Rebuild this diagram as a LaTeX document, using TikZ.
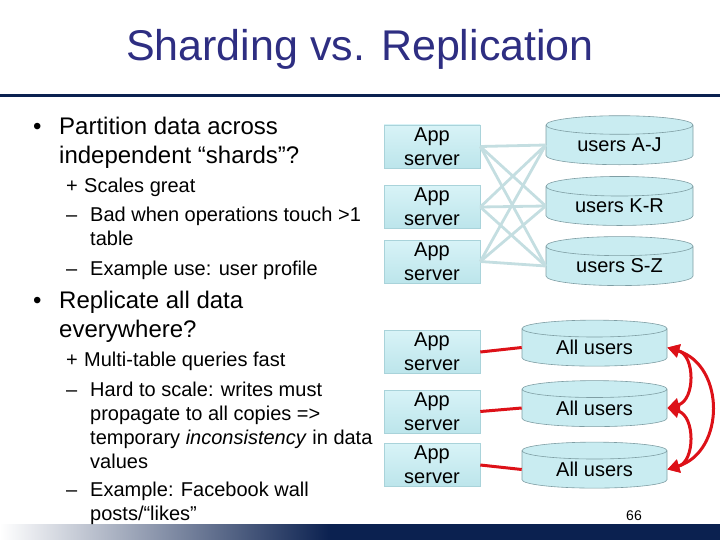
\documentclass[tikz,border=0pt]{standalone}
\usepackage{fontspec}
\setmainfont{Liberation Sans}
\usetikzlibrary{arrows.meta,shapes.geometric}
\definecolor{ink}{HTML}{000000}
\definecolor{navy}{HTML}{0B2150}
\definecolor{titleblue}{HTML}{2E2E82}
\definecolor{cyantop}{HTML}{D8F3F7}
\definecolor{cyanbot}{HTML}{BCE5EB}
\definecolor{cyanfill}{HTML}{C9ECF1}
\definecolor{cyanedge}{HTML}{A9D3DA}
\definecolor{dbedge}{HTML}{7F9EA4}
\definecolor{wire}{HTML}{C4DEE1}
\definecolor{sync}{HTML}{DD1118}
\tikzset{
  px/.style={x=1pt,y=-1pt},
  ttl/.style={font=\fontsize{43}{50}\selectfont,text=titleblue},
  bul/.style={anchor=base west,inner sep=0pt,font=\fontsize{24}{29}\selectfont,text=ink},
  sub/.style={anchor=base west,inner sep=0pt,font=\fontsize{20}{24}\selectfont,text=ink},
  appbox/.style={draw=cyanedge,line width=.6pt,top color=cyantop,bottom color=cyanbot,
    minimum width=96pt,minimum height=43pt,inner sep=0pt,align=center,
    font=\fontsize{20}{24}\selectfont},
  dbcyl/.style={cylinder,shape border rotate=90,aspect=0.22,draw=dbedge,line width=.6pt,
    fill=cyanfill,minimum width=147pt,minimum height=49pt,inner sep=0pt,
    font=\fontsize{20}{24}\selectfont},
  wireline/.style={draw=wire,line width=2.8pt},
  repline/.style={draw=sync,line width=3pt},
  syncar/.style={{Triangle[length=12pt,width=13pt]}-{Triangle[length=12pt,width=13pt]},draw=sync,line width=3pt},
}
\begin{document}
\begin{tikzpicture}[px]
  \useasboundingbox (0,0) rectangle (720,540);

  % ── title and rules ──
  \node[ttl] (title) at (360,49) {Sharding vs. Replication};
  \fill[navy] (0,94.5) rectangle (720,97.5);
  \shade[left color=white,right color=navy] (0,524) rectangle (330,540);
  \fill[navy] (330,524) rectangle (720,540);
  \node[font=\fontsize{14}{16}\selectfont] (page) at (634,516) {66};

  % ── bullet text ──
  \foreach \n/\y in {b1/135,b2/308} \node[bul] (\n) at (33,\y) {\textbullet};
  \foreach \n/\y/\t in {m1/135/{Partition data across},m2/164/{independent “shards”?},
      m3/308/{Replicate all data},m4/337/{everywhere?}}
    \node[bul] (\n) at (59,\y) {\t};
  \foreach \n/\y in {p1/193,p2/366} \node[sub] (\n) at (66,\y) {+ };
  \node[sub,anchor=base west] (s1) at (84,193) {Scales great};
  \node[sub,anchor=base west] (s5) at (84,366) {Multi-table queries fast};
  \foreach \n/\y in {d1/222,d2/275,d3/396,d4/496} \node[sub] (\n) at (66,\y) {–};
  \foreach \n/\y/\t in {s2/222/{Bad when operations touch >1},s3/245/{table},
      s4/275/{Example use: user profile},s6/396/{Hard to scale: writes must},
      s7/420/{propagate to all copies =>},s8/444/{temporary \textit{inconsistency} in data},
      s9/468/{values},s10/496/{Example: Facebook wall},s11/520/{posts/“likes”}}
    \node[sub] (\n) at (90,\y) {\t};

  % ── sharding ──
  \foreach \i/\y in {1/146.5,2/207,3/261.5} \node[appbox] (app\i) at (432,\y) {App\\server};
  \foreach \i/\y/\t in {1/145/{users A-J},2/206/{users K-R},3/266/{users S-Z}}
    \node[dbcyl] (sh\i) at (619.5,\y) {\t};
  \foreach \a in {1,2,3} \foreach \d in {1,2,3} \draw[wireline] (app\a.east) -- (sh\d.west);

  % ── replication ──
  \foreach \i/\y in {1/352,2/411.5,3/465} \node[appbox] (ra\i) at (432,\y) {App\\server};
  \foreach \i/\y in {1/347.5,2/408,3/469.5}
    \node[dbcyl,minimum width=145pt,minimum height=46pt] (rp\i) at (594.5,\y) {All users};
  \foreach \i in {1,2,3} \draw[repline] (ra\i.east) -- (rp\i.west);
  \draw[syncar] (rp1.east) .. controls +(28,8) and +(28,-8) .. (rp2.east);
  \draw[syncar] (rp2.east) .. controls +(28,8) and +(28,-8) .. (rp3.east);
  \draw[syncar] (rp1.east) .. controls +(58,18) and +(58,-18) .. (rp3.east);
\end{tikzpicture}
\end{document}
